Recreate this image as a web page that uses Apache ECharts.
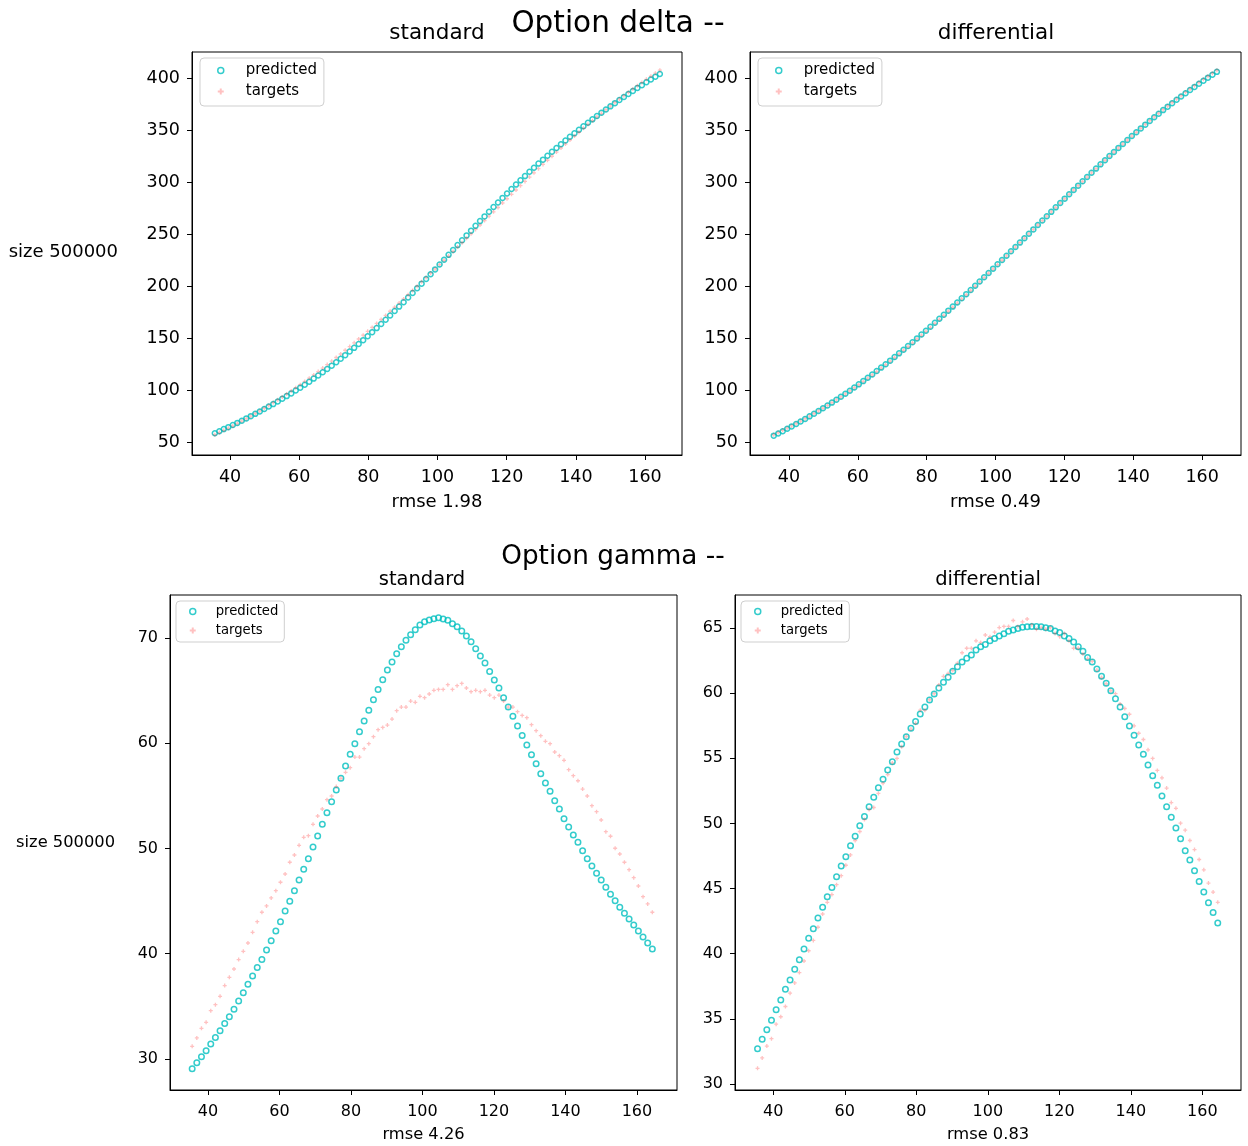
<!DOCTYPE html>
<html>
<head>
<meta charset="utf-8">
<script src="https://cdn.jsdelivr.net/npm/echarts@6/dist/echarts.min.js"></script>
<style>
html,body{margin:0;padding:0;background:#fff;}
#chart{width:1248px;height:1146px;}
</style>
</head>
<body>
<div id="chart"></div>
<script>
// ---------- data ----------
const X = [35.6,36.9,38.2,39.5,40.8,42.1,43.4,44.7,46.0,47.3,48.6,49.9,51.2,52.5,53.8,55.1,56.4,57.7,59.0,60.3,
61.6,62.9,64.2,65.5,66.8,68.1,69.4,70.7,72.0,73.3,74.6,75.9,77.2,78.5,79.8,81.1,82.4,83.7,85.0,86.3,
87.6,88.9,90.2,91.5,92.8,94.1,95.4,96.7,98.0,99.3,100.6,101.9,103.2,104.5,105.8,107.1,108.4,109.7,111.0,112.3,
113.6,114.9,116.2,117.5,118.8,120.1,121.4,122.7,124.0,125.3,126.6,127.9,129.2,130.5,131.8,133.1,134.4,135.7,137.0,138.3,
139.6,140.9,142.2,143.5,144.8,146.1,147.4,148.7,150.0,151.3,152.6,153.9,155.2,156.5,157.8,159.1,160.4,161.7,163.0,164.3];

const DELTA_TARGETS = [57.0,59.1,61.2,63.3,65.5,67.8,70.1,72.5,74.9,77.4,
79.9,82.5,85.2,87.9,90.6,93.4,96.3,99.2,102.2,105.2,
108.3,111.4,114.6,117.8,121.1,124.5,127.8,131.3,134.7,138.3,
141.8,145.4,149.1,152.8,156.5,160.3,164.1,167.9,171.8,175.8,
179.7,183.7,187.7,191.7,195.8,199.9,204.1,208.2,212.4,216.5,
220.7,224.9,229.1,233.4,237.6,241.8,246.1,250.3,254.6,258.8,
263.1,267.3,271.5,275.7,280.0,284.1,288.3,292.5,296.7,300.8,
304.9,309.0,313.0,317.1,321.1,325.0,329.0,332.9,336.7,340.6,
344.4,348.1,351.9,355.6,359.2,362.8,366.3,369.8,373.3,376.7,
380.0,383.3,386.5,389.7,392.9,396.0,399.0,402.0,404.9,407.8];

const DELTA_PRED_STANDARD = [58.5,60.4,62.4,64.3,66.4,68.4,70.5,72.7,74.9,77.1,
79.4,81.7,84.1,86.5,89.0,91.6,94.2,96.8,99.5,102.3,
105.1,108.0,111.0,114.0,117.1,120.2,123.5,126.7,130.1,133.6,
137.1,140.6,144.3,148.0,151.8,155.7,159.6,163.6,167.7,171.8,
176.0,180.3,184.6,189.0,193.4,197.9,202.4,206.9,211.5,216.1,
220.8,225.4,230.1,234.8,239.5,244.1,248.8,253.4,258.0,262.6,
267.1,271.6,276.1,280.5,284.9,289.2,293.5,297.7,301.8,305.9,
310.0,313.9,317.9,321.7,325.5,329.3,332.9,336.6,340.1,343.7,
347.1,350.5,353.9,357.2,360.5,363.7,366.8,370.0,373.0,376.1,
379.1,382.0,384.9,387.8,390.6,393.4,396.2,398.9,401.6,404.2];

const DELTA_PRED_DIFFERENTIAL = [56.1,58.2,60.4,62.7,65.0,67.3,69.7,72.2,74.7,77.2,
79.8,82.5,85.2,87.9,90.7,93.6,96.5,99.4,102.5,105.5,
108.6,111.8,115.0,118.3,121.6,124.9,128.3,131.8,135.3,138.8,
142.4,146.0,149.7,153.4,157.1,160.9,164.7,168.6,172.4,176.4,
180.3,184.3,188.3,192.3,196.3,200.4,204.5,208.6,212.7,216.8,
221.0,225.2,229.3,233.5,237.7,241.9,246.1,250.4,254.6,258.8,
263.1,267.3,271.5,275.8,280.0,284.2,288.4,292.6,296.7,300.9,
305.0,309.1,313.1,317.2,321.2,325.2,329.1,333.0,336.8,340.6,
344.4,348.1,351.8,355.4,359.0,362.5,365.9,369.4,372.7,376.0,
379.3,382.5,385.6,388.7,391.7,394.7,397.7,400.6,403.4,406.2];

const GAMMA_TARGETS = [31.20,32.00,32.91,33.48,34.59,35.16,35.95,36.97,37.76,38.55,
39.44,40.23,41.02,42.03,43.05,43.94,44.54,45.30,45.99,46.79,
47.58,48.69,49.38,50.30,51.06,51.22,52.30,53.09,53.75,54.64,
54.99,55.88,56.67,57.24,57.68,58.69,58.69,59.49,59.96,60.63,
61.29,61.51,61.73,62.30,63.10,63.44,63.44,64.01,63.89,64.46,
64.33,64.68,65.03,65.12,65.12,65.57,65.12,65.47,65.69,65.25,
64.90,65.03,64.90,65.03,64.58,64.33,64.58,64.01,63.44,63.44,
63.00,62.65,62.43,61.77,61.20,60.72,60.18,59.96,59.17,58.82,
58.38,57.49,56.92,56.44,55.65,54.99,54.07,53.50,52.71,51.60,
51.16,50.02,49.48,48.69,47.99,47.23,46.44,45.42,44.73,43.94];

const GAMMA_PRED_STANDARD = [29.08,29.65,30.22,30.79,31.43,32.03,32.69,33.36,34.02,34.72,
35.51,36.30,37.09,37.89,38.68,39.44,40.36,41.24,42.16,43.05,
44.06,44.98,45.99,47.01,48.02,49.03,50.14,51.19,52.30,53.40,
54.45,55.56,56.67,57.84,58.95,59.96,61.10,62.11,63.13,64.14,
65.12,66.04,66.96,67.72,68.51,69.18,69.78,70.32,70.79,71.24,
71.55,71.71,71.84,71.93,71.81,71.68,71.36,71.08,70.67,70.19,
69.65,68.99,68.29,67.62,66.83,66.01,65.25,64.33,63.44,62.56,
61.64,60.75,59.83,58.92,58.06,57.11,56.22,55.43,54.54,53.75,
52.83,52.04,51.28,50.59,49.79,49.03,48.34,47.64,47.01,46.31,
45.65,45.04,44.41,43.84,43.30,42.73,42.16,41.59,41.02,40.45];

const GAMMA_PRED_DIFFERENTIAL = [32.71,33.43,34.17,34.89,35.70,36.45,37.27,37.98,38.80,39.54,
40.36,41.18,41.92,42.74,43.56,44.38,45.09,45.91,46.73,47.45,
48.29,49.01,49.83,50.54,51.28,52.00,52.74,53.38,54.10,54.74,
55.48,56.09,56.66,57.30,57.83,58.40,58.93,59.47,59.93,60.39,
60.83,61.21,61.67,62.03,62.39,62.67,62.92,63.31,63.56,63.74,
64.02,64.20,64.38,64.56,64.74,64.84,64.95,65.05,65.10,65.12,
65.12,65.10,65.02,64.95,64.77,64.66,64.38,64.20,63.92,63.56,
63.21,62.74,62.39,61.85,61.29,60.75,60.19,59.57,58.93,58.19,
57.47,56.76,56.02,55.30,54.48,53.66,52.92,52.10,51.28,50.47,
49.65,48.83,47.91,47.19,46.37,45.55,44.74,43.92,43.17,42.36];

const X_TICKS = [40,60,80,100,120,140,160];
const DELTA_TICKS = [50,100,150,200,250,300,350,400];
const GAMMA_STD_TICKS = [30,40,50,60,70];
const GAMMA_DIFF_TICKS = [30,35,40,45,50,55,60,65];

const SUPTITLES = ['Option delta --','Option gamma --'];
const SUBTITLES = ['standard','differential'];
const ROW_LABEL = 'size 500000';
const RMSE_LABELS = ['rmse 1.98','rmse 0.49','rmse 4.26','rmse 0.83'];

// ---------- styling ----------
const FONT = 'DejaVu Sans';
const CYAN = '#00BFBF';
const PINK = 'rgba(255,0,0,0.3)';
const PLUS = 'path://M2,0H4V2H6V4H4V6H2V4H0V2H2Z';

const pairs = (ys) => X.map((x, i) => [x, ys[i]]);

const grids = [
  {left:192, top:52, width:490, height:403},
  {left:750, top:52, width:491, height:403},
  {left:170, top:595, width:507, height:495},
  {left:735, top:595, width:506, height:495}
];
const xRanges = [[29.0,170.7],[28.7,171.3],[29.4,171.2],[29.3,170.8]];
const yRanges = [[37.5,425.3],[37.5,425.3],[27.05,74.09],[29.54,67.53]];
const yTicks = [DELTA_TICKS, DELTA_TICKS, GAMMA_STD_TICKS, GAMMA_DIFF_TICKS];
const tickFont = [17.5,17.5,16,16];
const labelFont = [18,18,16.3,16.3];

const xAxes = grids.map((g, i) => ({
  type:'value', gridIndex:i, min:xRanges[i][0], max:xRanges[i][1],
  splitLine:{show:false},
  axisLine:{show:true, onZero:false, lineStyle:{color:'#000', width:1}},
  axisTick:{show:true, length:5, customValues:X_TICKS, lineStyle:{color:'#000'}},
  axisLabel:{customValues:X_TICKS, fontSize:tickFont[i], fontFamily:FONT, color:'#000', margin:i<2?13:14},
  name:RMSE_LABELS[i], nameLocation:'middle', nameGap:i<2?38:37,
  nameTextStyle:{fontSize:labelFont[i], fontFamily:FONT, color:'#000'}
}));
const yAxes = grids.map((g, i) => ({
  type:'value', gridIndex:i, min:yRanges[i][0], max:yRanges[i][1],
  splitLine:{show:false},
  axisLine:{show:true, onZero:false, lineStyle:{color:'#000', width:1}},
  axisTick:{show:true, length:5, customValues:yTicks[i], lineStyle:{color:'#000'}},
  axisLabel:{customValues:yTicks[i], fontSize:tickFont[i], fontFamily:FONT, color:'#000', margin:12}
}));

const predSeries = (ys, idx, size) => ({
  type:'scatter', name:'predicted', xAxisIndex:idx, yAxisIndex:idx,
  data:pairs(ys), symbol:'circle', symbolSize:size,
  itemStyle:{color:'transparent', borderColor:CYAN, borderWidth:1.5},
  silent:true, emphasis:{disabled:true}
});
const targSeries = (ys, idx) => ({
  type:'scatter', name:'targets', xAxisIndex:idx, yAxisIndex:idx,
  data:pairs(ys), symbol:PLUS, symbolSize:4,
  itemStyle:{color:PINK},
  silent:true, emphasis:{disabled:true}
});

const legendBase = (left, top, fs, w, pad, gap, lh) => ({
  left, top, orient:'vertical', itemWidth:w, itemHeight:6, itemGap:gap,
  padding:pad, backgroundColor:'rgba(255,255,255,0.85)', borderColor:'#cfcfcf',
  borderWidth:1, borderRadius:4, selectedMode:false,
  textStyle:{fontSize:fs, fontFamily:FONT, color:'#000', lineHeight:lh},
  data:[
    {name:'predicted', icon:'circle', itemStyle:{color:'transparent', borderColor:CYAN, borderWidth:1.5}},
    {name:'targets', icon:PLUS, itemStyle:{color:PINK, borderWidth:0}}
  ]
});

const txt = (text, x, y, size, align) => ({
  type:'text', x, y, silent:true,
  style:{text, fontSize:size, fontFamily:FONT, fill:'#000', align:align||'center', verticalAlign:'middle'}
});

const option = {
  animation:false,
  backgroundColor:'#fff',
  grid: grids.map(g => Object.assign({show:true, borderColor:'#000', borderWidth:1, backgroundColor:'transparent'}, g)),
  xAxis: xAxes,
  yAxis: yAxes,
  legend: [
    legendBase(200, 58, 15, 40, [5,7,7,17], 6, 14),
    legendBase(758, 58, 15, 40, [5,7,7,17], 6, 14),
    legendBase(176, 601, 13.2, 36, [4,6,5,13], 6, 13),
    legendBase(741, 601, 13.2, 36, [4,6,5,13], 6, 13)
  ],
  series: [
    predSeries(DELTA_PRED_STANDARD, 0, 5), targSeries(DELTA_TARGETS, 0),
    predSeries(DELTA_PRED_DIFFERENTIAL, 1, 5), targSeries(DELTA_TARGETS, 1),
    predSeries(GAMMA_PRED_STANDARD, 2, 5.5), targSeries(GAMMA_TARGETS, 2),
    predSeries(GAMMA_PRED_DIFFERENTIAL, 3, 5.5), targSeries(GAMMA_TARGETS, 3)
  ],
  graphic: [
    txt(SUPTITLES[0], 618, 24, 29.5),
    txt(SUBTITLES[0], 437, 33, 21.5),
    txt(SUBTITLES[1], 996, 33, 21.5),
    txt(ROW_LABEL, 118, 252, 18, 'right'),
    txt(SUPTITLES[1], 613, 557, 26.3),
    txt(SUBTITLES[0], 422, 580, 19.5),
    txt(SUBTITLES[1], 988, 580, 19.5),
    txt(ROW_LABEL, 115, 843, 16.3, 'right')
  ]
};

const chart = echarts.init(document.getElementById('chart'), null, {renderer:'canvas'});
chart.setOption(option);
</script>
</body>
</html>
